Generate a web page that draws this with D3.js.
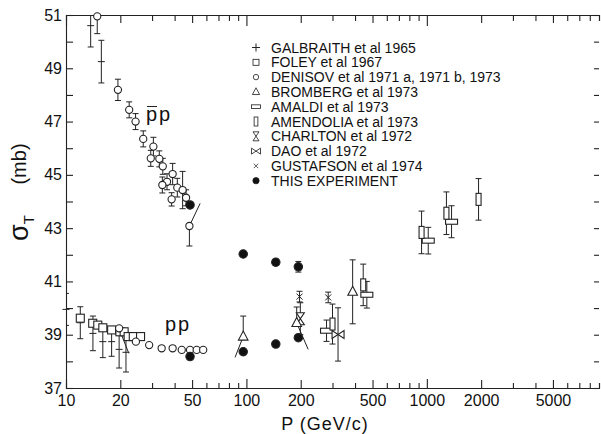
<!DOCTYPE html>
<html>
<head>
<meta charset="utf-8">
<script src="https://cdn.jsdelivr.net/npm/d3@7"></script>
<style>
  body { margin: 0; background: #fff; }
  svg text { font-family: "Liberation Sans", Arial, sans-serif; fill: #111; }
  .axis path, .axis line { stroke: #222; stroke-width: 1.1; }
  .mark { stroke: #222; stroke-width: 1.1; fill: #fff; }
  .bar { stroke: #222; stroke-width: 1; fill: none; }
</style>
</head>
<body>
<svg id="chart" width="601" height="434"></svg>
<script>
// tick labels
var xTickLabels = [10, 20, 50, 100, 200, 500, 1000, 2000, 5000];
var yTickLabels = [37, 39, 41, 43, 45, 47, 49, 51];

// [P (GeV/c), sigma (mb), err up, err down]
var galbraith = [[13.7, 50.6, 0.8, 0.8], [15.7, 49.25, 0.8, 0.8],
                 [10, 39.95, 0.6, 0.6], [12, 39.45, 0.6, 0.6], [14.1, 39.05, 0.65, 0.65],
                 [16, 38.74, 0.6, 0.6], [17.9, 38.74, 0.55, 0.55], [19.7, 38.45, 0.7, 0.7],
                 [21.5, 38.34, 0.74, 0.74]];
var foley = [[12, 39.62, 0, 0], [14.06, 39.43, 0, 0], [15, 39.36, 0, 0], [16, 39.26, 0, 0],
             [17.9, 39.18, 0, 0], [19.9, 39.11, 0, 0], [21, 39.11, 0, 0], [22.1, 38.93, 0, 0],
             [23.6, 38.93, 0, 0], [25.9, 38.93, 0, 0]];
var denisov = [[14.9, 50.95, 0, 0.65], [19.4, 48.19, 0.4, 0.4], [22.4, 47.44, 0.3, 0.3],
               [24.3, 47.0, 0.3, 0.3], [26.8, 46.35, 0.3, 0.3], [30.5, 46.06, 0.35, 0.35],
               [29.5, 45.62, 0.3, 0.3], [32.9, 45.6, 0.3, 0.3], [34.4, 45.32, 0.3, 0.3],
               [39.0, 45.03, 0.4, 0.4], [36.3, 44.74, 0.3, 0.3], [34.2, 44.62, 0.3, 0.3],
               [41.4, 44.52, 0.35, 0.35], [44.3, 44.43, 0.7, 0.7], [38.5, 44.08, 0.25, 0.25],
               [46.3, 44.14, 0.3, 0.3], [48.3, 43.08, 0, 0.75],
               [19.7, 39.24, 0, 0], [24.4, 38.74, 0, 0], [28.9, 38.61, 0, 0], [33.9, 38.49, 0, 0],
               [39.0, 38.49, 0, 0], [43.8, 38.43, 0, 0], [48.7, 38.43, 0, 0], [53.0, 38.43, 0, 0],
               [57.6, 38.43, 0, 0]];
var bromberg = [[96, 38.93, 0.77, 0], [190, 39.44, 0.6, 0], [388, 40.61, 1.2, 1.2]];
var amaldi = [[278, 39.15, 0.4, 0.4], [465, 40.5, 0.5, 0.5], [1018, 42.53, 0.5, 0.5],
              [1371, 43.24, 0.6, 0.6]];
var amendolia = [[300, 39.4, 0.75, 0.75], [444, 40.87, 0.78, 0.78], [935, 42.84, 0.8, 0.8],
                 [1284, 43.56, 0.8, 0.8], [1935, 44.08, 0.78, 0.78]];
var charlton = [[199, 39.6, 0.6, 0.6]];
var dao = [[322, 39.01, 1.0, 1.0]];
var gustafson = [[197, 40.43, 0.2, 0.2], [284, 40.4, 0.2, 0.2]];
var thisExp = [[48.7, 43.87, 0, 0], [96, 42.03, 0, 0], [145.5, 41.72, 0.12, 0.12], [194, 41.55, 0.2, 0.2],
               [48.7, 38.18, 0, 0], [96, 38.36, 0, 0], [145.5, 38.65, 0, 0], [194, 38.89, 0, 0]];
// slanted tails [P1, s1, P2, s2]
var tails = [[48.3, 43.08, 55.4, 43.93], [96, 38.93, 86.5, 38.15], [190, 39.44, 220, 38.45],
             [20.3, 39.0, 22.3, 38.3]];

var legendNames = ["GALBRAITH et al 1965", "FOLEY et al 1967", "DENISOV et al 1971 a, 1971 b, 1973",
                   "BROMBERG et al 1973", "AMALDI et al 1973", "AMENDOLIA et al 1973",
                   "CHARLTON et al 1972", "DAO et al 1972", "GUSTAFSON et al 1974", "THIS EXPERIMENT"];
var legendSymbols = ["plus", "square", "circle", "triangle", "hrect", "vrect", "hourglass", "bowtie", "cross", "filled"];

var svg = d3.select("#chart");
var x = d3.scaleLog().domain([10, 9000]).range([66, 599]);
var y = d3.scaleLinear().domain([37, 51]).range([388, 15]);

// minor ticks for the log axis
var xTicks = [];
[10, 100, 1000].forEach(function(dec) {
  for (var k = 1; k <= 9; k++) if (k * dec <= 9000) xTicks.push(k * dec);
});
var yTicks = d3.range(37, 52);

function isDecade(d) { return d == 10 || d == 100 || d == 1000; }

// bottom axis
var gb = svg.append("g").attr("class", "axis").attr("transform", "translate(0,388)")
  .call(d3.axisBottom(x).tickValues(xTicks).tickSizeOuter(0).tickSize(-5).tickPadding(7)
        .tickFormat(function(d) { return xTickLabels.indexOf(d) >= 0 ? d : ""; }));
gb.selectAll(".tick line").attr("y2", function(d) { return isDecade(d) ? -9 : (xTickLabels.indexOf(d) >= 0 ? -8 : -5); });
gb.selectAll("text").style("font-size", "16px").attr("fill", "#111");

// top axis
var gt = svg.append("g").attr("class", "axis").attr("transform", "translate(0,15)")
  .call(d3.axisTop(x).tickValues(xTicks).tickSizeOuter(0).tickSize(-6).tickFormat(""));
gt.selectAll(".tick line").attr("y2", function(d) { return isDecade(d) ? 11 : (xTickLabels.indexOf(d) >= 0 ? 8 : 6); });

// left axis
var gl = svg.append("g").attr("class", "axis").attr("transform", "translate(66,0)")
  .call(d3.axisLeft(y).tickValues(yTicks).tickSizeOuter(0).tickSize(-7).tickPadding(4)
        .tickFormat(function(d) { return yTickLabels.indexOf(d) >= 0 ? d : ""; }));
gl.selectAll("text").style("font-size", "16px").attr("fill", "#111");

// right axis (ticks only)
var gr = svg.append("g").attr("class", "axis").attr("transform", "translate(599,0)")
  .call(d3.axisRight(y).tickValues(yTicks).tickSizeOuter(0).tickSize(-5).tickFormat(""));
gr.select(".domain").remove();

// axis titles
svg.append("text").attr("x", 325).attr("y", 430).attr("text-anchor", "middle")
  .style("font-size", "18px").style("letter-spacing", "1px").text("P (GeV/c)");
var sig = svg.append("text").attr("transform", "translate(28,241) rotate(-90)").style("font-size", "27px");
sig.append("tspan").text("σ");
sig.append("tspan").attr("dy", 6).style("font-size", "15px").text("T");
svg.append("text").attr("transform", "translate(26,164) rotate(-90)").attr("text-anchor", "middle")
  .style("font-size", "20px").text("(mb)");

// reaction labels
svg.append("text").attr("x", 146).attr("y", 121).style("font-size", "20px").style("letter-spacing", "2px").text("pp");
svg.append("line").attr("class", "bar").attr("x1", 147).attr("x2", 157).attr("y1", 106.5).attr("y2", 106.5);
svg.append("text").attr("x", 165).attr("y", 331).style("font-size", "20px").style("letter-spacing", "2px").text("pp");

// plot area (error bars clipped, symbols not)
svg.append("clipPath").attr("id", "clip").append("rect")
  .attr("x", 66).attr("y", 15).attr("width", 533).attr("height", 373);
var plot = svg.append("g").attr("clip-path", "url(#clip)");
var marks = svg.append("g");

function drawSymbol(g, type, cx, cy) {
  var s = g.append("g").attr("transform", "translate(" + cx + "," + cy + ")");
  if (type == "square") s.append("rect").attr("class", "mark").attr("x", -4).attr("y", -4).attr("width", 8).attr("height", 8);
  else if (type == "circle") s.append("circle").attr("class", "mark").attr("r", 3.6);
  else if (type == "filled") s.append("circle").attr("class", "mark").attr("r", 4.2).style("fill", "#111");
  else if (type == "triangle") s.append("path").attr("class", "mark").attr("d", "M0,-5.5L4.8,3.5L-4.8,3.5Z");
  else if (type == "hrect") s.append("rect").attr("class", "mark").attr("x", -6).attr("y", -2.5).attr("width", 12).attr("height", 5);
  else if (type == "vrect") s.append("rect").attr("class", "mark").attr("x", -2.5).attr("y", -6).attr("width", 5).attr("height", 12);
  else if (type == "hourglass") s.append("path").attr("class", "mark").attr("d", "M-4,-6L4,-6L-4,6L4,6Z");
  else if (type == "bowtie") s.append("path").attr("class", "mark").attr("d", "M-6,-4L-6,4L6,-4L6,4Z");
  else if (type == "cross") s.append("path").attr("class", "bar").attr("d", "M-3,-3L3,3M-3,3L3,-3");
  else if (type == "plus") s.append("path").attr("class", "bar").attr("d", "M-3.5,0L3.5,0");
}

function drawSeries(data, type) {
  data.forEach(function(d) {
    var cx = x(d[0]), cy = y(d[1]);
    var top = y(d[1] + d[2]), bot = y(d[1] - d[3]);
    if (d[2] > 0 || d[3] > 0) {
      plot.append("line").attr("class", "bar").attr("x1", cx).attr("x2", cx).attr("y1", top).attr("y2", bot);
      if (d[2] > 0) plot.append("line").attr("class", "bar").attr("x1", cx - 3).attr("x2", cx + 3).attr("y1", top).attr("y2", top);
      if (d[3] > 0) plot.append("line").attr("class", "bar").attr("x1", cx - 3).attr("x2", cx + 3).attr("y1", bot).attr("y2", bot);
    }
  });
  data.forEach(function(d) { drawSymbol(marks, type, x(d[0]), y(d[1])); });
}

tails.forEach(function(t) {
  plot.append("line").attr("class", "bar")
    .attr("x1", x(t[0])).attr("y1", y(t[1])).attr("x2", x(t[2])).attr("y2", y(t[3]));
});

drawSeries(galbraith, "plus");
drawSeries(foley, "square");
drawSeries(denisov, "circle");
drawSeries(amaldi, "hrect");
drawSeries(amendolia, "vrect");
drawSeries(dao, "bowtie");
drawSeries(charlton, "hourglass");
drawSeries(bromberg, "triangle");
drawSeries(gustafson, "cross");
drawSeries(thisExp, "filled");

// legend
var leg = svg.append("g");
legendNames.forEach(function(name, i) {
  var ly = 47.5 + i * 14.8;
  var g = leg.append("g");
  var t = legendSymbols[i];
  if (t == "plus") g.append("path").attr("class", "bar").attr("d", "M252,"+ly+"L260,"+ly+"M256,"+(ly-4)+"L256,"+(ly+4));
  else {
    var s = g.append("g").attr("transform", "translate(256," + ly + ") scale(0.75)");
    drawSymbol(s, t, 0, 0);
  }
  leg.append("text").attr("x", 271).attr("y", ly + 5).style("font-size", "14px").text(name);
});
</script>
</body>
</html>
